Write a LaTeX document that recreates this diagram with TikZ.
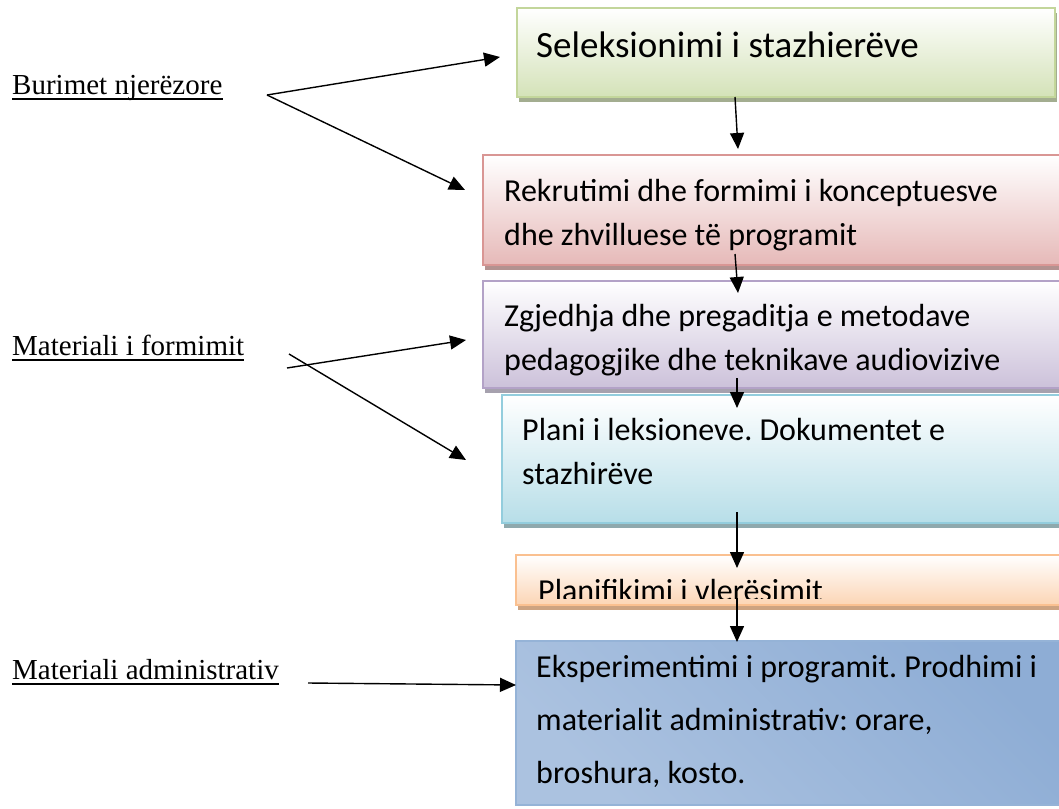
\documentclass[tikz,border=0pt]{standalone}
\usepackage{fontspec}
\setmainfont{Liberation Serif}
\newfontfamily\boxfont{Carlito}
\usetikzlibrary{arrows.meta,calc,shadows}
\frenchspacing

% panel colours: border, fill, shadow
\definecolor{grnB}{HTML}{C3D69B}\definecolor{grnF}{HTML}{D4E2B8}\definecolor{grnS}{HTML}{A3AD90}
\definecolor{redB}{HTML}{D99694}\definecolor{redF}{HTML}{E6B9B8}\definecolor{redS}{HTML}{B39290}
\definecolor{purB}{HTML}{B3A2C7}\definecolor{purF}{HTML}{CCC1DA}\definecolor{purS}{HTML}{A6A1AE}
\definecolor{cyaB}{HTML}{93CDDD}\definecolor{cyaF}{HTML}{B7DEE8}\definecolor{cyaS}{HTML}{8FA9AD}
\definecolor{orgB}{HTML}{FAC090}\definecolor{orgF}{HTML}{FCD5B5}\definecolor{orgS}{HTML}{CDA381}
\definecolor{bluB}{HTML}{95B3D7}\definecolor{bluL}{HTML}{DCE6F2}\definecolor{bluD}{HTML}{8EADD5}\definecolor{bluM}{HTML}{ABC2E0}

\tikzset{
  panel/.style n args={3}{draw=#1, line width=2pt, top color=white, bottom color=#2,
    drop shadow={fill=#3, opacity=1, shadow xshift=2pt, shadow yshift=-5pt},
    inner sep=0pt, outer sep=0pt, anchor=north west, rectangle},
  bluepanel/.style={draw=bluB, line width=2pt, top color=bluD, middle color=bluL, bottom color=bluM,
    shading angle=-45, inner sep=0pt, outer sep=0pt, anchor=north west, rectangle},
  % multi-line texts are placed by the baseline of their last line
  boxtext/.style={font=\boxfont\fontsize{32}{44}\selectfont, align=left, inner sep=0pt, anchor=base west},
  bigtext/.style={font=\boxfont\fontsize{37}{44}\selectfont, inner sep=0pt, anchor=base west},
  lbl/.style={font=\fontsize{29}{34}\selectfont, inner sep=0pt, anchor=base west},
  uline/.style={line width=1.6pt},
  arr/.style={line width=1.4pt, -{Triangle[length=16pt,width=14pt]}}
}

\begin{document}
\begin{tikzpicture}[x=1pt,y=-1pt]
\useasboundingbox[fill=white] (0,0) rectangle (1059,808);

% flow panels
\node[panel={grnB}{grnF}{grnS}, minimum width=538pt, minimum height=89pt] (sel) at (517,8) {};
\node[panel={redB}{redF}{redS}, minimum width=585pt, minimum height=110pt] (rek) at (483,155) {};
\node[panel={purB}{purF}{purS}, minimum width=585pt, minimum height=107pt] (zgj) at (483,281) {};
\node[panel={cyaB}{cyaF}{cyaS}, minimum width=565pt, minimum height=128pt] (pla) at (502,395) {};
\node[panel={orgB}{orgF}{orgS}, minimum width=550pt, minimum height=50pt] (vle) at (516,555) {};
\node[bluepanel, minimum width=550pt, minimum height=164pt] (eks) at (516,641) {};

% panel texts
\node[bigtext] (selt) at (536,58) {Seleksionimi i stazhierëve};
\node[boxtext] (rekt) at (504,245) {Rekrutimi dhe formimi i konceptuesve\\dhe zhvilluese të programit};
\node[boxtext] (zgjt) at (504,370) {Zgjedhja dhe pregaditja e metodave\\pedagogjike dhe teknikave audiovizive};
\node[boxtext] (plat) at (522,484) {Plani i leksioneve. Dokumentet e\\stazhirëve};
\begin{scope}
  \clip (517,556) rectangle (1059,598);
  \node[boxtext] (vlet) at (538,601) {Planifikimi i vlerësimit};
\end{scope}
\node[boxtext, font=\boxfont\fontsize{32}{53}\selectfont] (ekst) at (536,783)
  {Eksperimentimi i programit. Prodhimi i\\materialit administrativ: orare,\\broshura, kosto.};

% resource labels
\node[lbl] (hr) at (12,94) {Burimet njerëzore};
\node[lbl] (mf) at (12,355) {Materiali i formimit};
\node[lbl] (ma) at (12,679) {Materiali administrativ};
\foreach \n in {hr,mf,ma}
  \draw[uline] ([yshift=-5pt]\n.base west) -- ([yshift=-5pt]\n.base east);

% connector end points
\coordinate (hrj) at (267,95);
\coordinate (hra) at (500,57);
\coordinate (hrb) at (465,190);
\coordinate (mfa0) at (287,368);
\coordinate (mfa) at (466,340);
\coordinate (mfb0) at (289,354);
\coordinate (mfb) at (466,460);
\coordinate (ma0) at (308,683);
\coordinate (ma1) at (516,685);
\coordinate (v1a) at (735,97);   \coordinate (v1b) at (738,149);
\coordinate (v2a) at (735,254);  \coordinate (v2b) at (738,293);
\coordinate (v3a) at (737,378);  \coordinate (v3b) at (737,408);
\coordinate (v4a) at (737,512);  \coordinate (v4b) at (737,568);
\coordinate (v5a) at (737,598);  \coordinate (v5b) at (737,642);

% side connectors
\draw[arr] (hrj) -- (hra);
\draw[arr] (hrj) -- (hrb);
\draw[arr] (mfa0) -- (mfa);
\draw[arr] (mfb0) -- (mfb);
\draw[arr] (ma0) -- (ma1);

% flow connectors
\draw[arr] (v1a) -- (v1b);
\draw[arr] (v2a) -- (v2b);
\draw[arr] (v3a) -- (v3b);
\draw[arr] (v4a) -- (v4b);
\draw[arr] (v5a) -- (v5b);
\end{tikzpicture}
\end{document}
